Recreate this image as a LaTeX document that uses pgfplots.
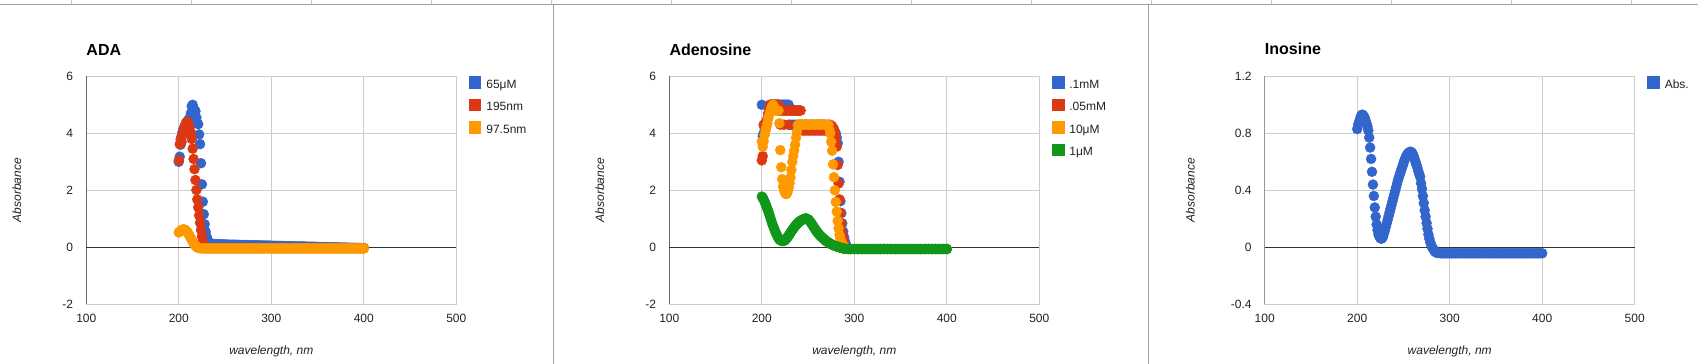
\documentclass[border=0pt]{standalone}
\usepackage{fontspec}
\setmainfont{Liberation Sans}
\usepackage{pgfplots}
\pgfplotsset{compat=1.18}
\definecolor{gblue}{HTML}{3366CC}
\definecolor{gred}{HTML}{DC3912}
\definecolor{gorange}{HTML}{FF9900}
\definecolor{ggreen}{HTML}{109618}
\definecolor{ggrid}{HTML}{CCCCCC}
\definecolor{gdark}{HTML}{333333}
\definecolor{gtext}{HTML}{222222}
\definecolor{sheet}{HTML}{A0A0A0}
\definecolor{sheetl}{HTML}{C8C8C8}
\pgfplotsset{
  gchart/.style={
    scale only axis, width=370pt, height=228pt, anchor=south west,
    xmin=100, xmax=500, xtick={100,200,300,400,500}, xticklabels={100,200,300,400,500},
    grid=major, major grid style={draw=ggrid, line width=1pt},
    axis line style={draw=ggrid, line width=1pt},
    major tick length=0pt, tick style={draw=none},
    /pgf/number format/assume math mode=true,
    tick label style={font=\fontsize{12}{14}\selectfont, text=gtext, inner sep=0pt},
    xticklabel style={anchor=base, yshift=-18.7pt},
    yticklabel style={anchor=east, xshift=-13pt},
    extra y ticks={0}, extra y tick labels={},
    extra y tick style={grid=major, major grid style={draw=gdark, line width=1pt}},
    every axis title/.style={at={(rel axis cs:0,1)}, anchor=base west, yshift=21.3pt,
      font=\bfseries\fontsize{16}{19}\selectfont, inner sep=0pt},
    every axis x label/.style={at={(rel axis cs:0.5,0)}, anchor=base, yshift=-50.2pt,
      font=\itshape\fontsize{12}{14}\selectfont, text=gtext, inner sep=0pt},
    xlabel={wavelength, nm}, ylabel={Absorbance},
    legend style={draw=none, fill=none, at={(rel axis cs:1,1)}, anchor=north west,
      xshift=12.7pt, inner sep=0pt, outer sep=0pt, row sep=7.3pt, column sep=5.5pt,
      font=\fontsize{12}{14}\selectfont, text=gtext,
      nodes={inner sep=0pt, text height=9pt, text depth=3pt}},
    legend cell align=left,
  },
  ylab/.style={every axis y label/.style={at={(rel axis cs:0,0.5)}, xshift=#1, rotate=90,
      anchor=center, font=\itshape\fontsize{12}{14}\selectfont, text=gtext, inner sep=0pt}},
  gdot/.style={only marks, mark=*, mark size=5pt, color=#1, mark options={draw=none, fill=#1},
    legend image code/.code={\fill[#1] (0pt,-2.6pt) rectangle (11.5pt,8.9pt);}},
}
\begin{document}
\begin{tikzpicture}
\useasboundingbox (0,0) rectangle (1698pt,364pt);
\fill[white] (0,0) rectangle (1698pt,364pt);
% spreadsheet frame
\draw[sheet, line width=1pt] (0,359.7pt) -- (1698pt,359.7pt);
\foreach \k in {71.3,191.3,311.3,431.3,551.3,671.3,791.3,911.3,1031.3,1151.3,1271.3,1391.3,1511.3,1631.3}
  \draw[sheetl, line width=1pt] (\k pt,360.2pt) -- (\k pt,364pt);
\draw[sheet, line width=1pt] (553.4pt,0) -- (553.4pt,359.7pt);
\draw[sheet, line width=1pt] (1148pt,0) -- (1148pt,359.7pt);

%%%%%%%%%%%%%%%% ADA
\begin{axis}[gchart, at={(86.3pt,59.7pt)}, ylab=-69.5pt, title={ADA},
  ymin=-2, ymax=6, ytick={-2,0,2,4,6}, yticklabels={-2,0,2,4,6}]
\addplot[gdot=gblue] coordinates {
(200,3.00) (201,3.18) (202,3.60) (203,3.90) (204,4.05) (205,4.15) (206,4.20) (207,4.30) (208,4.35) (209,4.40)
(210,4.45) (211,4.50) (212,4.50) (213,4.70) (214,4.95) (215,5.00) (216,4.88) (217,4.80) (218,4.78) (219,4.55)
(220,4.35) (221,4.32) (222,3.96) (223,3.62) (224,2.95) (225,2.21) (226,1.60) (227,1.16) (228,0.81) (229,0.55)
(230,0.38) (231,0.27) (232,0.20) (233,0.16) (234,0.14) (235,0.13) (236,0.12) (238,0.115)
(240,0.110) (242,0.108) (244,0.105) (246,0.103) (248,0.100) (250,0.098) (252,0.095) (254,0.093) (256,0.090) (258,0.090)
(260,0.090) (262,0.088) (264,0.085) (266,0.083) (268,0.080) (270,0.080) (272,0.080) (274,0.078) (276,0.075) (278,0.073)
(280,0.070) (282,0.070) (284,0.070) (286,0.068) (288,0.065) (290,0.063) (292,0.060) (294,0.060) (296,0.060) (298,0.058)
(300,0.055) (302,0.053) (304,0.050) (306,0.050) (308,0.050) (310,0.048) (312,0.045) (314,0.043) (316,0.040) (318,0.040)
(320,0.040) (322,0.038) (324,0.035) (326,0.033) (328,0.030) (330,0.030) (332,0.030) (334,0.028) (336,0.025) (338,0.023)
(340,0.020) (342,0.020) (344,0.020) (346,0.018) (348,0.015) (350,0.013) (352,0.010) (354,0.010) (356,0.010) (358,0.008)
(360,0.005) (362,0.003) (364,0.000) (366,0.000) (368,0.000) (370,-0.003) (372,-0.005) (374,-0.008) (376,-0.010) (378,-0.010)
(380,-0.010) (382,-0.013) (384,-0.015) (386,-0.018) (388,-0.020) (390,-0.020) (392,-0.020) (394,-0.023) (396,-0.025)
(398,-0.025) (400,-0.025)};
\addlegendentry{65μM}
\addplot[gdot=gred] coordinates {
(200,3.05) (201,3.62) (202,3.79) (203,3.70) (204,3.95) (205,4.10) (206,4.20) (207,4.30) (208,4.38) (209,4.41)
(210,4.35) (211,4.25) (212,4.10) (213,3.95) (214,3.80) (215,3.46) (216,3.10) (217,2.74) (218,2.36) (219,2.01)
(220,1.68) (221,1.40) (222,1.12) (223,0.86) (224,0.61) (225,0.38) (226,0.20) (227,0.08) (228,0.02) (229,-0.01)
(230,-0.02) (232,-0.03) (236,-0.03) (240,-0.03) (244,-0.03) (248,-0.03) (252,-0.03) (256,-0.03) (260,-0.03)
(264,-0.03) (268,-0.03) (272,-0.03) (276,-0.03) (280,-0.03) (284,-0.03) (288,-0.03) (292,-0.03) (296,-0.03)
(300,-0.03) (304,-0.03) (308,-0.03) (312,-0.03) (316,-0.03) (320,-0.03) (324,-0.03) (328,-0.03) (332,-0.03)
(336,-0.03) (340,-0.03) (344,-0.03) (348,-0.03) (352,-0.03) (356,-0.03) (360,-0.03) (364,-0.03) (368,-0.03)
(372,-0.03) (376,-0.03) (380,-0.03) (384,-0.03) (388,-0.03) (392,-0.03) (396,-0.03) (400,-0.03)};
\addlegendentry{195nm}
\addplot[gdot=gorange] coordinates {
(200,0.52) (201,0.55) (202,0.58) (203,0.60) (204,0.62) (205,0.63) (206,0.62) (207,0.61) (208,0.58) (209,0.54)
(210,0.50) (211,0.44) (212,0.38) (213,0.32) (214,0.26) (215,0.20) (216,0.14) (217,0.10) (218,0.06) (219,0.03)
(220,0.00) (221,-0.02) (222,-0.03) (224,-0.035) (226,-0.04) (228,-0.04) (230,-0.04) (232,-0.04) (234,-0.04)
(236,-0.04) (238,-0.04) (240,-0.04) (242,-0.04) (244,-0.04) (246,-0.04) (248,-0.04) (250,-0.04) (252,-0.04)
(254,-0.04) (256,-0.04) (258,-0.04) (260,-0.04) (262,-0.04) (264,-0.04) (266,-0.04) (268,-0.04) (270,-0.04)
(272,-0.04) (274,-0.04) (276,-0.04) (278,-0.04) (280,-0.04) (282,-0.04) (284,-0.04) (286,-0.04) (288,-0.04)
(290,-0.04) (292,-0.04) (294,-0.04) (296,-0.04) (298,-0.04) (300,-0.04) (302,-0.04) (304,-0.04) (306,-0.04)
(308,-0.04) (310,-0.04) (312,-0.04) (314,-0.04) (316,-0.04) (318,-0.04) (320,-0.04) (322,-0.04) (324,-0.04)
(326,-0.04) (328,-0.04) (330,-0.04) (332,-0.04) (334,-0.04) (336,-0.04) (338,-0.04) (340,-0.04) (342,-0.04)
(344,-0.04) (346,-0.04) (348,-0.04) (350,-0.04) (352,-0.04) (354,-0.04) (356,-0.04) (358,-0.04) (360,-0.04)
(362,-0.04) (364,-0.04) (366,-0.04) (368,-0.04) (370,-0.04) (372,-0.04) (374,-0.04) (376,-0.04) (378,-0.04)
(380,-0.04) (382,-0.04) (384,-0.04) (386,-0.04) (388,-0.04) (390,-0.04) (392,-0.04) (394,-0.04) (396,-0.04)
(398,-0.04) (400,-0.04)};
\addlegendentry{97.5nm}
\draw[gdark, line width=1pt] (rel axis cs:0,0) -- (rel axis cs:0,1);
\end{axis}

%%%%%%%%%%%%%%%% Adenosine
\begin{axis}[gchart, at={(669.3pt,59.7pt)}, ylab=-69.5pt, title={Adenosine},
  ymin=-2, ymax=6, ytick={-2,0,2,4,6}, yticklabels={-2,0,2,4,6}]
\addplot[gdot=gblue] coordinates {
(200,5.00) (201,3.90) (202,4.00) (203,4.20) (204,4.30) (205,4.40) (206,4.50) (207,4.70) (208,4.90) (209,5.00)
(210,5.00) (211,5.00) (212,5.00) (213,5.00) (214,5.00) (215,5.00) (216,5.00) (217,5.00) (218,5.00) (219,5.00)
(220,5.00) (221,5.00) (222,5.00) (223,5.00) (224,5.00) (225,5.00) (226,5.00) (227,5.00) (228,5.00) (229,5.00)
(230,4.30) (232,4.30) (234,4.30) (236,4.30) (238,4.30) (240,4.30) (242,4.30) (244,4.30) (246,4.30) (248,4.30)
(250,4.30) (252,4.30) (254,4.30) (256,4.30) (258,4.30) (260,4.30) (262,4.30) (264,4.30) (266,4.30) (268,4.30)
(270,4.30) (272,4.25) (274,4.20) (276,4.15) (278,4.10) (279,4.05) (280,4.00) (281,3.85) (282,3.65) (283,3.00)
(284,2.30) (285,1.62) (286,1.20) (287,0.84) (288,0.55) (289,0.35) (290,0.20) (291,0.10) (292,0.02) (293,-0.03)
(294,-0.05) (296,-0.06) (300,-0.06) (304,-0.06) (308,-0.06) (312,-0.06) (316,-0.06) (320,-0.06) (324,-0.06)
(328,-0.06) (332,-0.06) (336,-0.06) (340,-0.06) (344,-0.06) (348,-0.06) (352,-0.06) (356,-0.06) (360,-0.06)
(364,-0.06) (368,-0.06) (372,-0.06) (376,-0.06) (380,-0.06) (384,-0.06) (388,-0.06) (392,-0.06) (396,-0.06) (400,-0.06)};
\addlegendentry{.1mM}
\addplot[gdot=gred] coordinates {
(200,3.05) (201,3.20) (202,4.30) (203,4.30) (204,4.35) (205,4.30) (206,4.50) (207,4.70) (208,4.85) (209,5.00)
(210,5.00) (211,5.00) (212,5.00) (213,5.00) (214,5.00) (215,5.00) (216,5.00) (217,5.00) (218,5.00) (219,4.80)
(220,4.30) (221,4.80) (222,4.80) (223,4.80) (224,4.30) (225,4.80) (226,4.80) (227,4.80) (228,4.80) (229,4.30)
(230,4.80) (231,4.80) (232,4.80) (233,4.80) (234,4.80) (235,4.80) (236,4.80) (237,4.80) (238,4.80) (239,4.80)
(240,4.80) (241,4.80) (242,4.80) (243,4.30) (244,4.10) (246,4.10) (248,4.10) (250,4.10) (252,4.10) (254,4.10)
(256,4.10) (258,4.10) (260,4.10) (262,4.10) (264,4.10) (266,4.10) (268,4.10) (270,4.10) (272,4.30) (274,4.30)
(276,4.25) (278,4.15) (279,4.00) (280,3.80) (281,3.53) (282,2.89) (283,2.24) (284,1.68) (285,1.21) (286,0.84)
(287,0.49) (288,0.26) (289,0.10) (290,0.02) (291,-0.03) (292,-0.05) (294,-0.06) (296,-0.06) (300,-0.06)
(304,-0.06) (308,-0.06) (312,-0.06) (316,-0.06) (320,-0.06) (324,-0.06) (328,-0.06) (332,-0.06) (336,-0.06)
(340,-0.06) (344,-0.06) (348,-0.06) (352,-0.06) (356,-0.06) (360,-0.06) (364,-0.06) (368,-0.06) (372,-0.06)
(376,-0.06) (380,-0.06) (384,-0.06) (388,-0.06) (392,-0.06) (396,-0.06) (400,-0.06)};
\addlegendentry{.05mM}
\addplot[gdot=gorange] coordinates {
(200,3.71) (201,3.53) (202,3.72) (203,3.94) (204,4.10) (205,4.22) (206,4.36) (207,4.52) (208,4.65) (209,4.75)
(210,4.85) (211,4.92) (212,5.00) (213,4.95) (214,4.84) (215,4.80) (216,4.80) (217,4.80) (218,4.80) (219,4.35)
(220,3.41) (221,2.81) (222,2.39) (223,2.13) (224,2.00) (225,1.92) (226,1.87) (227,1.88) (228,1.95) (229,2.08)
(230,2.25) (231,2.45) (232,2.71) (233,3.00) (234,3.20) (235,3.39) (236,3.60) (237,3.85) (238,4.06) (239,4.29)
(240,4.30) (242,4.32) (244,4.30) (246,4.30) (248,4.32) (250,4.30) (252,4.30) (254,4.32) (256,4.30) (258,4.30)
(260,4.32) (262,4.30) (264,4.30) (266,4.32) (268,4.30) (270,4.30) (272,4.30) (273,4.15) (274,4.00) (275,3.70)
(276,3.39) (277,2.91) (278,2.46) (279,2.00) (280,1.59) (281,1.25) (282,0.93) (283,0.67) (284,0.44) (285,0.30)
(286,0.20) (287,0.12) (288,0.06) (289,0.02) (290,-0.02) (291,-0.04) (292,-0.05) (294,-0.06) (296,-0.06)
(300,-0.06) (304,-0.06) (308,-0.06) (312,-0.06) (316,-0.06) (320,-0.06) (324,-0.06) (328,-0.06) (332,-0.06)
(336,-0.06) (340,-0.06) (344,-0.06) (348,-0.06) (352,-0.06) (356,-0.06) (360,-0.06) (364,-0.06) (368,-0.06)
(372,-0.06) (376,-0.06) (380,-0.06) (384,-0.06) (388,-0.06) (392,-0.06) (396,-0.06) (400,-0.06)};
\addlegendentry{10μM}
\addplot[gdot=ggreen] coordinates {
(200,1.78) (201,1.74) (202,1.68) (203,1.60) (204,1.52) (205,1.44) (206,1.35) (207,1.26) (208,1.16) (209,1.06)
(210,0.96) (211,0.86) (212,0.77) (213,0.68) (214,0.60) (215,0.52) (216,0.45) (217,0.38) (218,0.32) (219,0.28)
(220,0.25) (221,0.23) (222,0.22) (223,0.22) (224,0.23) (225,0.25) (226,0.28) (227,0.32) (228,0.36) (229,0.41)
(230,0.46) (231,0.51) (232,0.56) (233,0.61) (234,0.65) (235,0.70) (236,0.74) (237,0.78) (238,0.82) (239,0.85)
(240,0.88) (241,0.91) (242,0.93) (243,0.95) (244,0.97) (245,0.99) (246,1.00) (247,1.01) (248,1.01) (249,1.00)
(250,0.98) (251,0.95) (252,0.91) (253,0.87) (254,0.82) (255,0.77) (256,0.72) (257,0.67) (258,0.62) (259,0.57)
(260,0.53) (261,0.49) (262,0.45) (263,0.41) (264,0.38) (265,0.35) (266,0.32) (267,0.29) (268,0.26) (269,0.23)
(270,0.21) (271,0.19) (272,0.17) (273,0.15) (274,0.13) (275,0.11) (276,0.09) (277,0.08) (278,0.06) (279,0.05)
(280,0.04) (281,0.03) (282,0.02) (283,0.01) (284,0.00) (285,-0.01) (286,-0.02) (287,-0.03) (288,-0.04) (289,-0.045)
(290,-0.05) (291,-0.055) (292,-0.06) (294,-0.06) (296,-0.06) (298,-0.06) (300,-0.06) (302,-0.06) (304,-0.06)
(306,-0.06) (308,-0.06) (310,-0.06) (312,-0.06) (314,-0.06) (316,-0.06) (318,-0.06) (320,-0.06) (322,-0.06)
(324,-0.06) (326,-0.06) (328,-0.06) (330,-0.06) (332,-0.06) (334,-0.06) (336,-0.06) (338,-0.06) (340,-0.06)
(342,-0.06) (344,-0.06) (346,-0.06) (348,-0.06) (350,-0.06) (352,-0.06) (354,-0.06) (356,-0.06) (358,-0.06)
(360,-0.06) (362,-0.06) (364,-0.06) (366,-0.06) (368,-0.06) (370,-0.06) (372,-0.06) (374,-0.06) (376,-0.06)
(378,-0.06) (380,-0.06) (382,-0.06) (384,-0.06) (386,-0.06) (388,-0.06) (390,-0.06) (392,-0.06) (394,-0.06)
(396,-0.06) (398,-0.06) (400,-0.06)};
\addlegendentry{1μM}
\draw[gdark, line width=1pt] (rel axis cs:0,0) -- (rel axis cs:0,1);
\end{axis}

%%%%%%%%%%%%%%%% Inosine
\begin{axis}[gchart, at={(1264.7pt,59.7pt)}, ylab=-74.5pt, title={Inosine},
  ymin=-0.4, ymax=1.2, ytick={-0.4,0,0.4,0.8,1.2}, yticklabels={-0.4,0,0.4,0.8,1.2}]
\addplot[gdot=gblue] coordinates {
(200,0.83) (201,0.86) (202,0.88) (203,0.90) (204,0.92) (205,0.93) (206,0.93) (207,0.92) (208,0.91) (209,0.89)
(210,0.87) (211,0.85) (212,0.82) (213,0.77) (214,0.70) (215,0.62) (216,0.53) (217,0.44) (218,0.36) (219,0.28)
(220,0.215) (221,0.16) (222,0.12) (223,0.09) (224,0.075) (225,0.065) (226,0.06) (227,0.065) (228,0.075) (229,0.10)
(230,0.12) (231,0.145) (232,0.17) (233,0.195) (234,0.22) (235,0.245) (236,0.27) (237,0.295) (238,0.32) (239,0.345)
(240,0.37) (241,0.395) (242,0.42) (243,0.445) (244,0.47) (245,0.49) (246,0.51) (247,0.53) (248,0.55) (249,0.57)
(250,0.59) (251,0.61) (252,0.625) (253,0.64) (254,0.65) (255,0.66) (256,0.665) (257,0.67) (258,0.67) (259,0.665)
(260,0.655) (261,0.64) (262,0.62) (263,0.60) (264,0.58) (265,0.56) (266,0.535) (267,0.515) (268,0.495) (269,0.45)
(270,0.41) (271,0.36) (272,0.31) (273,0.26) (274,0.215) (275,0.17) (276,0.13) (277,0.09) (278,0.06) (279,0.035)
(280,0.015) (281,0.0) (282,-0.01) (283,-0.02) (284,-0.03) (285,-0.035) (286,-0.038) (288,-0.04) (290,-0.042)
(292,-0.042) (294,-0.042) (296,-0.042) (298,-0.042) (300,-0.042) (302,-0.042) (304,-0.042) (306,-0.042)
(308,-0.042) (310,-0.042) (312,-0.042) (314,-0.042) (316,-0.042) (318,-0.042) (320,-0.042) (322,-0.042)
(324,-0.042) (326,-0.042) (328,-0.042) (330,-0.042) (332,-0.042) (334,-0.042) (336,-0.042) (338,-0.042)
(340,-0.042) (342,-0.042) (344,-0.042) (346,-0.042) (348,-0.042) (350,-0.042) (352,-0.042) (354,-0.042)
(356,-0.042) (358,-0.042) (360,-0.042) (362,-0.042) (364,-0.042) (366,-0.042) (368,-0.042) (370,-0.042)
(372,-0.042) (374,-0.042) (376,-0.042) (378,-0.042) (380,-0.042) (382,-0.042) (384,-0.042) (386,-0.042)
(388,-0.042) (390,-0.042) (392,-0.042) (394,-0.042) (396,-0.042) (398,-0.042) (400,-0.042)};
\addlegendentry{Abs.}
\draw[gdark, line width=1pt] (rel axis cs:0,0) -- (rel axis cs:0,1);
\end{axis}
\end{tikzpicture}
\end{document}
